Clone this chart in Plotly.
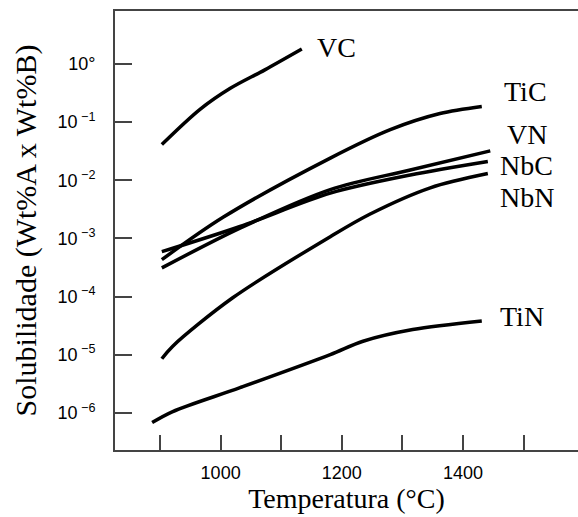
import math
import plotly.graph_objects as go

# ---- data (temperature in °C, solubility product) ----
vc_t = [903, 966, 1016, 1073, 1134]
vc_s = [4.1e-2, 1.65e-1, 3.8e-1, 7.9e-1, 1.8]

tic_t = [903, 1004, 1181, 1280, 1362, 1431]
tic_s = [4.3e-4, 2.3e-3, 2.4e-2, 7.4e-2, 1.4e-1, 1.85e-1]

vn_t = [903, 1032, 1181, 1313, 1445]
vn_s = [3.1e-4, 1.5e-3, 6.9e-3, 1.5e-2, 3.2e-2]

nbc_t = [903, 1032, 1181, 1313, 1441]
nbc_s = [5.9e-4, 1.6e-3, 6.0e-3, 1.23e-2, 2.1e-2]

nbn_t = [903, 921, 1020, 1181, 1246, 1346, 1441]
nbn_s = [8.5e-6, 1.4e-5, 9.5e-5, 1.07e-3, 2.6e-3, 7.4e-3, 1.3e-2]

tin_t = [887, 921, 1032, 1181, 1235, 1317, 1431]
tin_s = [6.8e-7, 1.05e-6, 2.7e-6, 1.0e-5, 1.7e-5, 2.7e-5, 3.8e-5]

series_names = ["VC", "TiC", "VN", "NbC", "NbN", "TiN"]
label_t = [1156, 1464, 1469, 1458, 1458, 1458]
label_s = [1.95, 3.3e-1, 6.0e-2, 1.8e-2, 5.1e-3, 4.5e-5]

x_tickvals = [900, 1000, 1100, 1200, 1300, 1400, 1500]
x_ticktext = ["", "1000", "", "1200", "", "1400", ""]
y_tickvals = [1, 1e-1, 1e-2, 1e-3, 1e-4, 1e-5, 1e-6]
y_ticktext = ["10°", "10<sup> −1</sup>", "10<sup> −2</sup>", "10<sup> −3</sup>",
              "10<sup> −4</sup>", "10<sup> −5</sup>", "10<sup> −6</sup>"]

series = [(vc_t, vc_s), (tic_t, tic_s), (vn_t, vn_s),
          (nbc_t, nbc_s), (nbn_t, nbn_s), (tin_t, tin_s)]

fig = go.Figure()
for name, (t, s) in zip(series_names, series):
    fig.add_trace(go.Scatter(
        x=t, y=s, mode="lines", name=name,
        line=dict(color="black", width=3.5, shape="spline", smoothing=0.9),
        showlegend=False, hoverinfo="skip"))

for name, t, s in zip(series_names, label_t, label_s):
    fig.add_annotation(x=t, y=math.log10(s), yref="y", xref="x", text=name,
                       showarrow=False, xanchor="left", yanchor="middle",
                       font=dict(family="Liberation Serif", size=28, color="black"))

serif = "Liberation Serif"
fig.update_layout(
    width=578, height=517,
    margin=dict(l=115, r=0, t=11, b=67),
    paper_bgcolor="white", plot_bgcolor="white",
    xaxis=dict(
        range=[825.7, 1589.8], tickvals=x_tickvals, ticktext=x_ticktext,
        ticks="inside", ticklen=15, tickwidth=2, tickcolor="#444",
        showline=True, linecolor="#444", linewidth=2, mirror=True,
        showgrid=False, zeroline=False, ticklabelstandoff=5,
        tickfont=dict(family="Liberation Sans", size=18, color="black"),
        title=dict(text="Temperatura (°C)", standoff=5,
                   font=dict(family=serif, size=28, color="black")),
    ),
    yaxis=dict(
        type="log", range=[-6.64, 0.91], tickvals=y_tickvals, ticktext=y_ticktext,
        ticks="inside", ticklen=17, tickwidth=2, tickcolor="#444",
        showline=True, linecolor="#444", linewidth=2,
        showgrid=False, zeroline=False, ticklabelstandoff=14,
        tickfont=dict(family="Liberation Sans", size=18, color="black"),
        title=dict(text="Solubilidade (Wt%A x Wt%B)", standoff=12,
                   font=dict(family=serif, size=30, color="black")),
    ),
)

fig.write_html("out.html")
